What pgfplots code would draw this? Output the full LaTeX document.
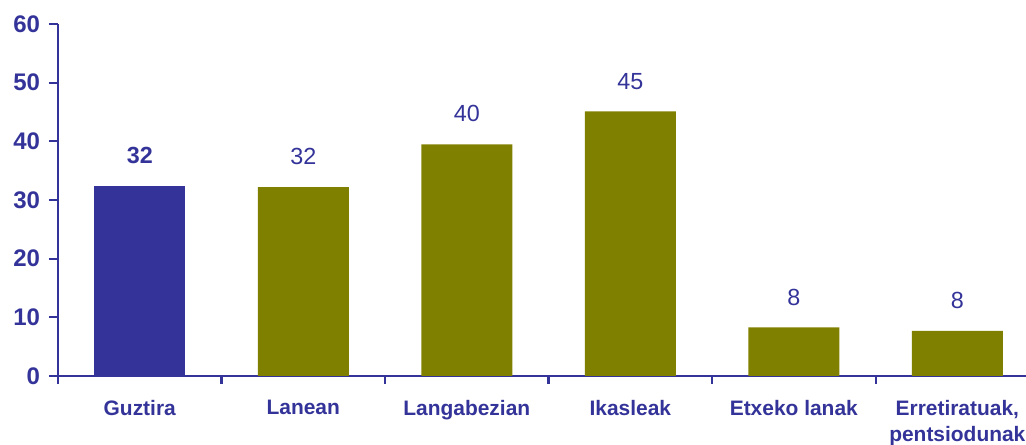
\documentclass[border=0pt]{standalone}
\usepackage{pgfplots}
\pgfplotsset{compat=1.18}
\usepackage{fontspec}
\setmainfont{Liberation Sans}
\definecolor{nv}{HTML}{333399}
\definecolor{ol}{HTML}{808000}
\begin{document}
\begin{tikzpicture}
\useasboundingbox (-43.5pt,-51.75pt) rectangle (726pt,282pt);
\begin{axis}[at={(0,0)}, anchor=south west, scale only axis,
  width=726pt, height=264pt,
  xmin=-0.5, xmax=5.42, ymin=0, ymax=60,
  ytick={0,10,...,60},
  axis x line=bottom, axis y line=left,
  axis line style={-, draw=nv, line width=1.8pt},
  tick align=outside, major tick length=6pt,
  ytick style={draw=nv, line width=1.6pt},
  xtick={0,1,2,3,4,5},
  xticklabels={Guztira,Lanean,Langabezian,Ikasleak,Etxeko lanak,{Erretiratuak,\\pentsiodunak}},
  xtick style={draw=none},
  xticklabel style={anchor=north, yshift=-8.5pt, align=center,
       font=\fontsize{15.7}{19.5}\selectfont\bfseries, text=nv},
  extra x ticks={-0.5,0.5,1.5,2.5,3.5,4.5},
  extra x tick labels={},
  extra x tick style={xtick style={draw=nv, line width=1.6pt}},
  yticklabel style={font=\fontsize{18}{20}\selectfont\bfseries, text=nv, xshift=-4pt},
  /pgf/number format/assume math mode=true,
  bar width=68.25pt,
  nodes near coords={\pgfmathprintnumber[fixed,precision=0]{\pgfplotspointmeta}},
  nodes near coords style={anchor=south, yshift=13pt, text=nv},
  clip=false,
]
\addplot[ybar, bar shift=0pt, fill=nv, draw=none, nodes near coords style={font=\fontsize{17.5}{20}\selectfont\bfseries}]
  coordinates {(0,32.4)};
\addplot[ybar, bar shift=0pt, fill=ol, draw=none, nodes near coords style={font=\fontsize{17.5}{20}\selectfont}]
  coordinates {(1,32.2) (2,39.5) (3,45.1) (4,8.3) (5,7.7)};
\end{axis}
\foreach \k in {0,...,6} \draw[nv, line width=1.6pt] (0,\k*44pt) -- (-6.5pt,\k*44pt);
\end{tikzpicture}
\end{document}
